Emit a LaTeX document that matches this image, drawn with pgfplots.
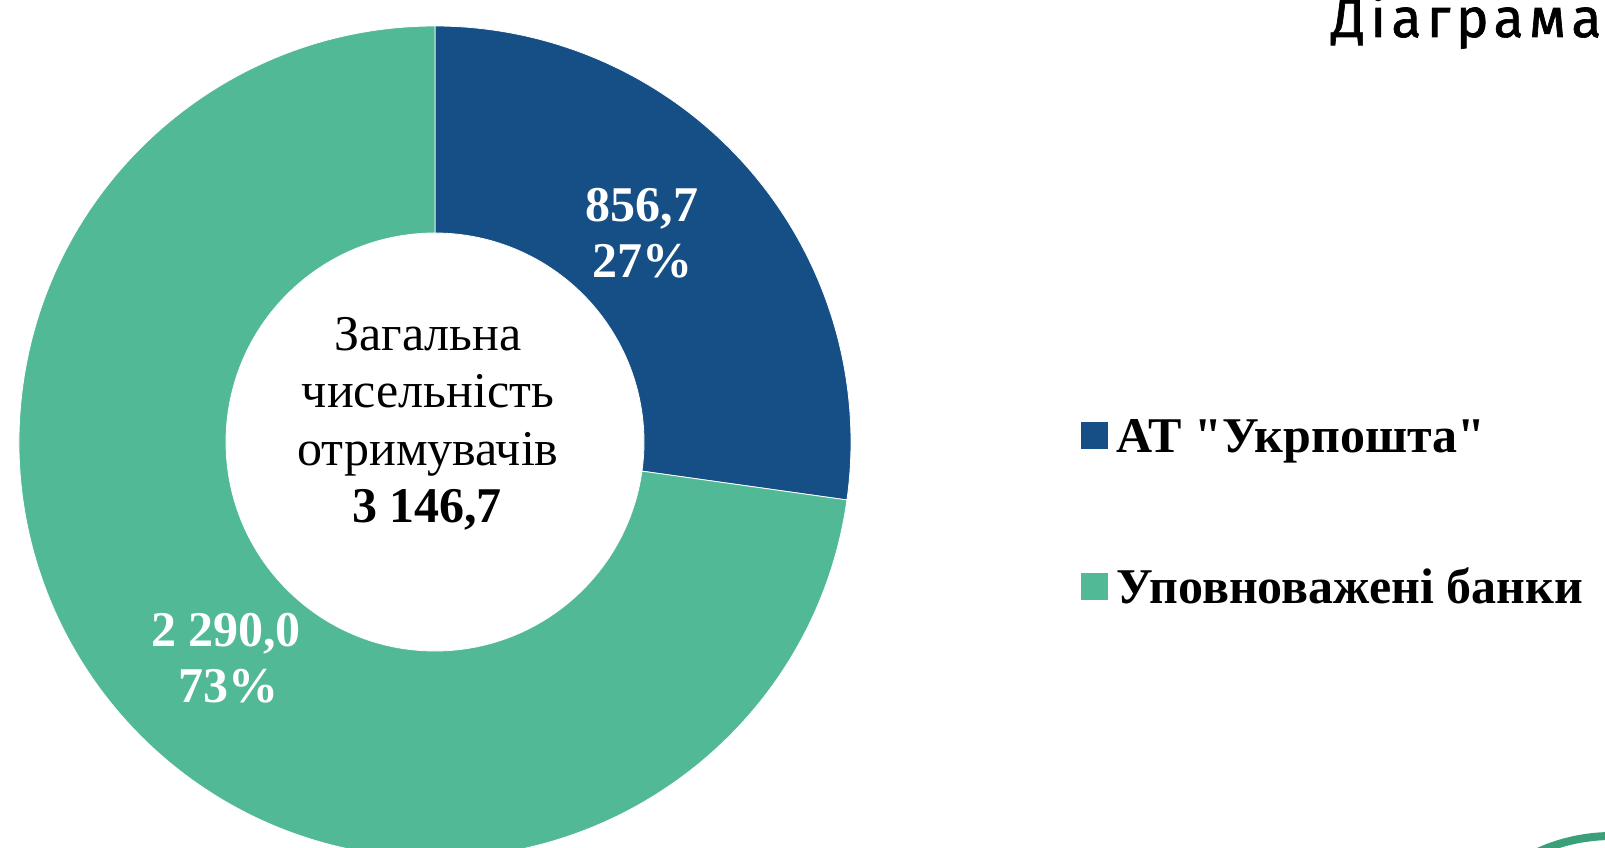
\documentclass[border=0pt]{standalone}
\usepackage{pgfplots}
\pgfplotsset{compat=1.18}
\usepackage{pgfplotstable}
\usepackage{fontspec}
\setmainfont{Liberation Serif}
\newfontfamily\titlefont[LetterSpace=10, FakeBold=1.2]{Fira Sans}
\usetikzlibrary{calc}
\definecolor{upblue}{RGB}{22,79,134}
\definecolor{bkgreen}{RGB}{82,185,150}
\definecolor{decogreen}{RGB}{58,160,122}

\pgfplotstableread{
segment value
1 856.7
2 2290.0
}\donutdata

\begin{document}
\begin{tikzpicture}[lab/.style={inner sep=0pt, anchor=base}]
\pgfplotstablegetelem{0}{value}\of\donutdata \let\valA\pgfplotsretval
\pgfplotstablegetelem{1}{value}\of\donutdata \let\valB\pgfplotsretval
\pgfmathsetmacro\total{\valA+\valB}
\pgfmathsetmacro\fracA{\valA/\total}
\pgfmathsetmacro\fracB{\valB/\total}
\pgfmathsetmacro\angA{90-360*\fracA}
\pgfmathsetmacro\pctA{100*\fracA}
\pgfmathsetmacro\pctB{100*\fracB}
\useasboundingbox (0,0) rectangle (802.5pt,423.5pt);
\clip (0,0) rectangle (802.5pt,423.5pt);
\begin{axis}[
  at={(0,0)}, anchor=south west,
  x=0.5pt, y=0.5pt, xmin=0, xmax=1605, ymin=0, ymax=847,
  hide axis, clip=false,
  /pgf/number format/assume math mode=true,
  legend style={at={(axis cs:1081,429)}, anchor=north west, draw=none, fill=none,
    inner sep=0pt, row sep=53.5pt,
    font=\bfseries\fontsize{25}{29}\selectfont,
    nodes={inner sep=0pt, text height=17pt, text depth=5pt}},
  legend cell align=left,
  legend image code/.code={\fill[#1] (0pt,-4pt) rectangle (13pt,9pt); \path[draw=none, fill=none] (0pt,0pt) -- (17.5pt,0pt);},
]
\addlegendimage{upblue}
\addlegendentry{АТ \textquotedbl Укрпошта\textquotedbl}
\addlegendimage{bkgreen}
\addlegendentry{Уповноважені банки}

% donut segments from the table values
\filldraw[fill=upblue, draw=white, line width=0.4pt]
  (axis cs:435,405) ++(90:208pt) arc[start angle=90, end angle=\angA, radius=208pt]
  -- ($(axis cs:435,405)+(\angA:104.5pt)$) arc[start angle=\angA, end angle=90, radius=104.5pt] -- cycle;
\filldraw[fill=bkgreen, draw=white, line width=0.4pt]
  (axis cs:435,405) ++(\angA:208pt) arc[start angle=\angA, end angle=-270, radius=208pt]
  -- ($(axis cs:435,405)+(-270:104.5pt)$) arc[start angle=-270, end angle=\angA, radius=104.5pt] -- cycle;

% data labels
\node[lab, text=white, font=\bfseries\fontsize{25}{30}\selectfont] at (axis cs:642,626)
  {\pgfmathprintnumber[fixed,fixed zerofill,precision=1,use comma,1000 sep={\ }]{\valA}};
\node[lab, text=white, font=\bfseries\fontsize{25}{30}\selectfont] at (axis cs:642,570)
  {\pgfmathprintnumber[fixed,precision=0]{\pctA}\%};
\node[lab, text=white, font=\bfseries\fontsize{25}{30}\selectfont] at (axis cs:226,201)
  {\pgfmathprintnumber[fixed,fixed zerofill,precision=1,use comma,1000 sep={\ }]{\valB}};
\node[lab, text=white, font=\bfseries\fontsize{25}{30}\selectfont] at (axis cs:228,145)
  {\pgfmathprintnumber[fixed,precision=0]{\pctB}\%};

% centre text
\node[lab, font=\fontsize{25}{30}\selectfont] at (axis cs:428,497) {Загальна};
\node[lab, font=\fontsize{25}{30}\selectfont] at (axis cs:428,440) {чисельність};
\node[lab, font=\fontsize{25}{30}\selectfont] at (axis cs:428,382) {отримувачів};
\node[lab, font=\bfseries\fontsize{25}{30}\selectfont] at (axis cs:427,325)
  {\pgfmathprintnumber[fixed,fixed zerofill,precision=1,use comma,1000 sep={\ }]{\total}};

% title (cut by the page edge)
\node[inner sep=0pt, anchor=base west, font=\titlefont\fontsize{27.5}{32}\selectfont] at (axis cs:1331,810) {Діаграма};

% decorative ring at the lower right
\draw[decogreen, line width=4pt] (axis cs:1612,-169) circle[radius=90pt];
\end{axis}
\end{tikzpicture}
\end{document}
